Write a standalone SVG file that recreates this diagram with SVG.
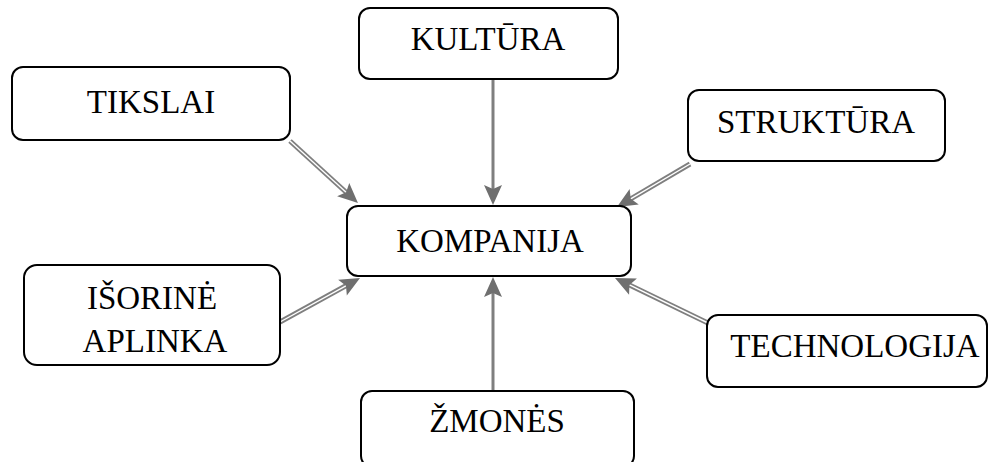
<svg xmlns="http://www.w3.org/2000/svg" width="997" height="462" viewBox="0 0 997 462">
<style>
.box{fill:#fff;stroke:#000;stroke-width:2}
.t{font-family:"Liberation Serif","Times New Roman",serif;font-size:33px;fill:#000;text-anchor:middle}
.shaft{stroke:#7f7f7f;stroke-width:5;fill:none}
.gap{stroke:#fff;stroke-width:1.4;fill:none}
.single{stroke:#7f7f7f;stroke-width:3;fill:none}
</style>
<defs>
<marker id="ah" markerUnits="userSpaceOnUse" markerWidth="20" markerHeight="18" refX="8" refY="9" orient="auto" overflow="visible">
<path d="M0,0 L20,9 L0,18 L4,9 z" fill="#6f6f6f"/>
</marker>
</defs>
<g id="connectors">
<path class="shaft" d="M290,141 L349.1,195"/><path class="gap" d="M290,141 L349.1,195" marker-end="url(#ah)"/>
<path class="shaft" d="M690,164 L627.3,200.9"/><path class="gap" d="M690,164 L627.3,200.9" marker-end="url(#ah)"/>
<path class="shaft" d="M280,322 L349.5,283.8"/><path class="gap" d="M280,322 L349.5,283.8" marker-end="url(#ah)"/>
<path class="shaft" d="M710,324 L625.8,283.2"/><path class="gap" d="M710,324 L625.8,283.2" marker-end="url(#ah)"/>
<path class="single" d="M493,79 L493,193" marker-end="url(#ah)"/>
<path class="single" d="M493,396 L493,289" marker-end="url(#ah)"/>
</g>
<g id="kompanija"><rect class="box" x="347" y="206" width="284" height="70" rx="11"/><text class="t" x="490" y="252">KOMPANIJA</text></g>
<g id="kultura"><rect class="box" x="359" y="8" width="259" height="71" rx="11"/><text class="t" x="488" y="50">KULTŪRA</text></g>
<g id="tikslai"><rect class="box" x="12" y="67" width="278" height="73" rx="11"/><text class="t" x="151" y="113">TIKSLAI</text></g>
<g id="struktura"><rect class="box" x="688" y="90" width="257" height="71" rx="11"/><text class="t" x="816" y="133">STRUKTŪRA</text></g>
<g id="isorine"><rect class="box" x="24" y="265" width="256" height="100" rx="13"/><text class="t" x="152" y="309">IŠORINĖ</text><text class="t" x="155" y="352">APLINKA</text></g>
<g id="technologija"><rect class="box" x="707" y="315" width="280" height="72" rx="11"/><text class="t" x="855" y="357">TECHNOLOGIJA</text></g>
<g id="zmones"><rect class="box" x="361" y="391" width="273" height="76" rx="11"/><text class="t" x="497" y="432">ŽMONĖS</text></g>
</svg>
